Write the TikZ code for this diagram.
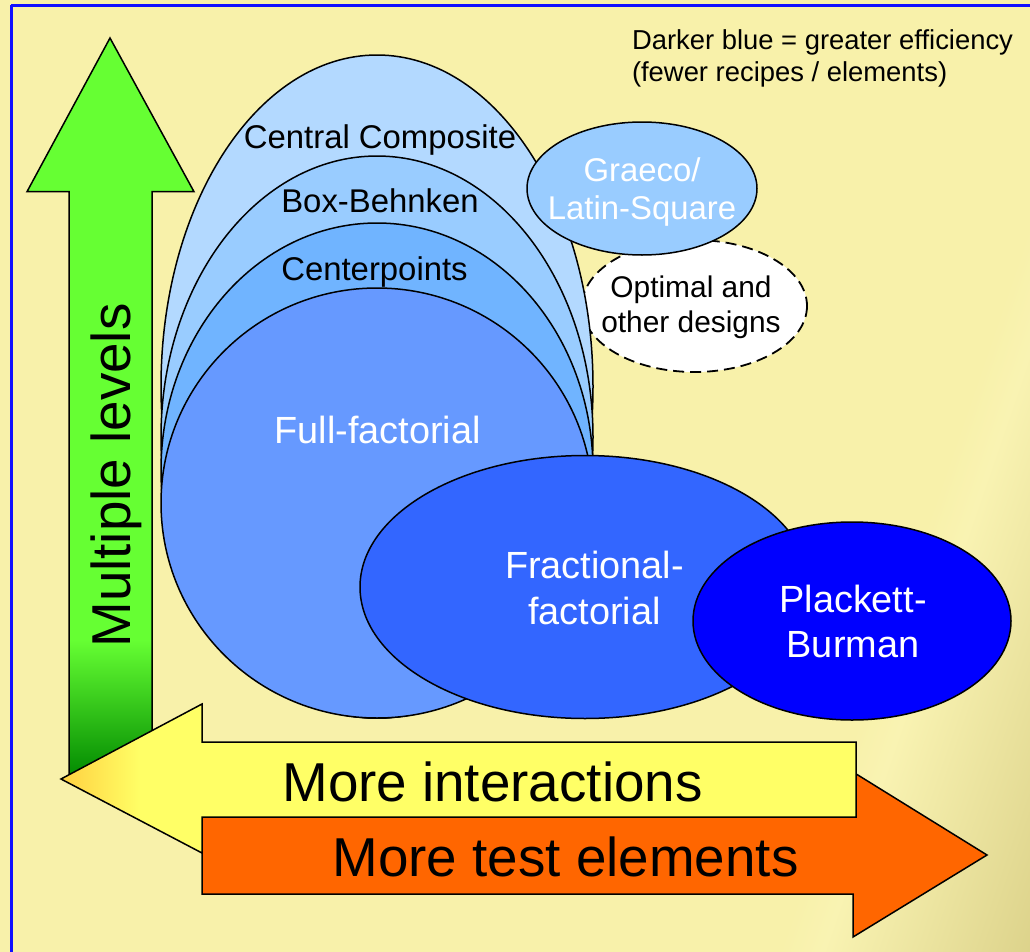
\documentclass[tikz,border=0pt]{standalone}
\usepackage{fontspec}
\setmainfont{Liberation Sans}
\usetikzlibrary{shapes.geometric}
\definecolor{bgY}{RGB}{248,241,170}
\definecolor{bgL}{RGB}{249,243,178}
\definecolor{bgD}{RGB}{220,210,138}
\definecolor{frameblue}{RGB}{16,16,255}
\definecolor{ccblue}{RGB}{179,217,255}
\definecolor{bbblue}{RGB}{153,204,255}
\definecolor{cpblue}{RGB}{112,180,255}
\definecolor{ffblue}{RGB}{102,153,255}
\definecolor{fracblue}{RGB}{51,102,255}
\definecolor{pbblue}{RGB}{0,0,255}
\definecolor{arrgreen}{RGB}{102,255,51}
\definecolor{arrdkgreen}{RGB}{0,136,0}
\definecolor{arryellow}{RGB}{255,255,102}
\definecolor{arrtip}{RGB}{255,208,64}
\definecolor{arrorange}{RGB}{255,102,0}
\pgfdeclarehorizontalshading{bgshade}{100bp}{color(0bp)=(bgY); color(70bp)=(bgY); color(72bp)=(bgL); color(82bp)=(bgD); color(100bp)=(bgD)}
\tikzset{
  outline/.style={draw=black, line width=1.5bp},
  lbl/.style={inner sep=0pt, outer sep=0pt},
  fsA/.style={font={\fontsize{33}{39}\selectfont}},
  fsB/.style={font={\fontsize{38}{46}\selectfont}},
  fsBig/.style={font={\fontsize{55}{60}\selectfont}},
}
\begin{document}
\begin{tikzpicture}[x=1bp,y=-1bp]
\useasboundingbox (0,0) rectangle (1030,952);
\clip (0,0) rectangle (1030,952);
% background
\shade[shading=bgshade, shading angle=-19] (0,0) rectangle (1030,952);
\draw[frameblue, line width=3bp] (11,5) -- (1040,5);
\draw[frameblue, line width=3bp] (11,5) -- (11,960);

% design ellipses
\draw[outline, line width=1.8bp, fill=white, dash pattern=on 11bp off 6bp] (694.5,306) ellipse [x radius=112.5, y radius=66];
\draw[outline, fill=ccblue] (377,386.5) ellipse [x radius=216, y radius=331.5];
\draw[outline, fill=bbblue] (377,437) ellipse [x radius=216, y radius=281];
\draw[outline, fill=cpblue] (377,470.5) ellipse [x radius=216, y radius=247.5];
\draw[outline, fill=ffblue] (377,503) ellipse [x radius=216, y radius=215];
\draw[outline, fill=bbblue] (642,188.5) ellipse [x radius=115, y radius=66.5];
\draw[outline, fill=fracblue] (585,587) ellipse [x radius=225, y radius=131.5];
\draw[outline, fill=pbblue] (852,621) ellipse [x radius=159, y radius=99];

% labels in ellipses
\node[lbl, fsA, anchor=base] (cc) at (380,148) {Central Composite};
\node[lbl, fsA, anchor=base] (bb) at (380,212) {Box-Behnken};
\node[lbl, fsA, anchor=base] (cp) at (374.5,280) {Centerpoints};
\node[lbl, fsB, anchor=base, text=white] (ff) at (377.5,443) {Full-factorial};
\node[lbl, fsB, align=center, text=white] (frac) at (594.5,587.7) {Fractional-\\factorial};
\node[lbl, fsB, align=center, text=white] (pb) at (853,621.5) {Plackett-\\Burman};
\node[lbl, fsA, align=center, text=white] (gl) at (642,192) {Graeco/\\Latin-Square};
\node[lbl, font={\fontsize{30}{35}\selectfont}, align=center] (opt) at (691,307.6) {Optimal and\\other designs};
\node[lbl, font={\fontsize{27.5}{32}\selectfont}, align=left, anchor=north west] (note) at (632,30) {Darker blue = greater efficiency\\(fewer recipes / elements)};

% green up arrow
\coordinate (gtip) at (110,38);
\path[fill=arrgreen] (gtip) -- (194,191.7) -- (152,191.7) -- (152,779) -- (69,779) -- (69,191.7) -- (27,191.7) -- cycle;
\shade[top color=arrgreen, bottom color=arrdkgreen] (69,640) rectangle (152,779);
\draw[outline] (gtip) -- (194,191.7) -- (152,191.7) -- (152,779) -- (69,779) -- (69,191.7) -- (27,191.7) -- cycle;
\node[lbl, fsBig, rotate=90, anchor=base] (ml) at (130,475.5) {Multiple levels};

% orange right arrow
\coordinate (otip) at (987,855);
\draw[outline, fill=arrorange] (202,817) -- (853,817) -- (853,772) -- (otip) -- (853,937) -- (853,894) -- (202,894) -- cycle;
% yellow left arrow
\coordinate (ytip) at (61,779);
\begin{scope}
  \clip (ytip) -- (202,704) -- (202,742) -- (856,742) -- (856,817) -- (202,817) -- (202,853) -- cycle;
  \fill[arryellow] (50,700) rectangle (860,860);
  \shade[left color=arrtip, right color=arryellow] (61,700) rectangle (140,860);
\end{scope}
\draw[outline] (ytip) -- (202,704) -- (202,742) -- (856,742) -- (856,817) -- (202,817) -- (202,853) -- cycle;
\node[lbl, fsBig, anchor=base] (mi) at (492.5,801) {More interactions};
\node[lbl, fsBig, anchor=base] (mt) at (565.5,876) {More test elements};
\end{tikzpicture}
\end{document}
